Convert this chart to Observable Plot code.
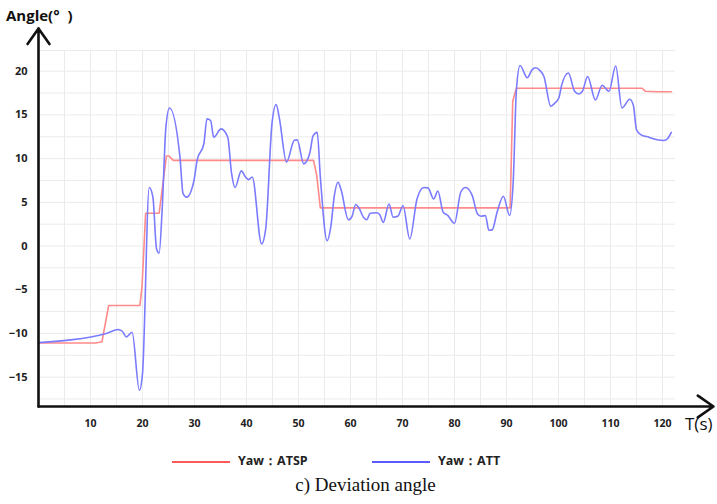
<!DOCTYPE html>
<html>
<head>
<meta charset="utf-8">
<script src="https://cdn.jsdelivr.net/npm/d3@7"></script>
<script src="https://cdn.jsdelivr.net/npm/@observablehq/plot@0.6"></script>
<style>
  body { margin: 0; background: #fff; }
  #wrap { position: relative; width: 717px; height: 504px; overflow: hidden; background: #fff; }
  #chart { position: absolute; left: 0; top: 0; }
  .lab { position: absolute; font-family: "Open Sans", sans-serif; color: #111; white-space: nowrap; }
  #legend { position: absolute; top: 452px; left: 0; width: 717px; height: 20px; font-family: "Open Sans", sans-serif; font-weight: 700; font-size: 12.5px; color: #222; }
  .sw { position: absolute; top: 9px; width: 58px; height: 2px; }
  .lt { position: absolute; top: 0px; white-space: nowrap; }
  #caption { position: absolute; top: 474px; left: 0; width: 731px; text-align: center; font-family: "Liberation Serif", "Times New Roman", serif; font-size: 19px; color: #111; }
</style>
</head>
<body>
<div id="wrap">
  <div id="chart"></div>
  <div class="lab" style="left:6px; top:5px; font-size:15px; font-weight:700;">Angle(°&nbsp;&nbsp;)</div>
  <div class="lab" style="left:685px; top:412px; font-size:17px;">T(s)</div>
  <div id="legend">
    <div class="sw" style="left:172px; background:#ff5a5a;"></div>
    <div class="lt" style="left:238px;">Yaw：ATSP</div>
    <div class="sw" style="left:372px; background:#5a5aff;"></div>
    <div class="lt" style="left:438px;">Yaw：ATT</div>
  </div>
  <div id="caption">c) Deviation angle</div>
</div>
<script>
// Series: Yaw ATSP (setpoint)
const atspT = [0, 11, 12.2, 13.5, 19.5, 19.9, 20.6, 23.2, 24.6, 25.1, 25.9, 52.9, 53.5, 54.2, 90.7, 91.2, 91.9, 116.1, 116.7, 119, 121.7];
const atspV = [-11.1, -11.1, -10.95, -6.8, -6.8, -4.7, 3.75, 3.75, 10.3, 10.3, 9.8, 9.8, 8.1, 4.37, 4.37, 16.6, 18.05, 18.05, 17.7, 17.65, 17.65];

// Series: Yaw ATT (attitude)
const attT = [0, 13.2, 15.3, 16.1, 16.9, 18.0, 19.4, 20.0, 21.3, 22.0, 22.7, 23.2, 23.8, 24.5, 25.2, 27.2, 27.8, 28.5, 29.9, 30.5, 31.8, 32.4, 33.1, 33.7, 35.1, 36.4, 37.1, 37.8, 39.0, 39.8, 40.4, 41.1, 42.9, 43.7, 44.9, 45.7, 46.3, 47.7, 49.2, 49.75, 51.0, 52.2, 52.8, 53.6, 54.2, 55.5, 56.2, 56.9, 57.6, 58.2, 59.6, 60.3, 61.0, 61.6, 62.6, 63.1, 63.8, 65.0, 65.6, 66.3, 67.4, 68.2, 69.1, 70.1, 71.4, 72.8, 74.1, 74.9, 76.0, 76.8, 77.8, 78.7, 80.0, 81.2, 82.1, 83.4, 84.4, 85.1, 85.95, 86.6, 87.25, 88.2, 89.4, 90.6, 91.3, 91.9, 92.6, 94.0, 94.9, 95.6, 96.4, 97.2, 98.5, 99.2, 100.1, 100.6, 101.9, 103.1, 103.9, 104.6, 105.6, 107.1, 108.4, 109.7, 111.0, 112.2, 113.7, 114.4, 115.0, 115.8, 117.4, 119.0, 120.25, 121.0, 121.7];
const attV = [-11.05, -9.97, -9.55, -9.75, -10.4, -9.86, -16.5, -14.6, 6.7, 5.6, -0.3, -0.8, 4.4, 13.6, 15.8, 10.2, 6.0, 5.6, 7.5, 9.8, 11.7, 14.55, 14.36, 12.45, 13.4, 12.45, 8.45, 6.7, 8.6, 7.9, 7.6, 7.9, 0.25, 2.0, 14.0, 16.2, 14.7, 9.6, 12.1, 12.15, 9.4, 10.7, 12.6, 13.0, 7.9, 0.6, 2.15, 5.8, 7.3, 6.4, 3.0, 3.4, 4.75, 4.37, 3.2, 3.0, 3.75, 3.8, 3.6, 2.7, 4.8, 3.3, 3.4, 4.6, 0.8, 5.4, 6.7, 6.65, 5.4, 6.3, 3.9, 3.5, 2.6, 6.15, 6.7, 5.8, 3.7, 3.4, 3.5, 1.8, 1.85, 3.9, 5.7, 3.5, 7.5, 17.8, 20.65, 19.25, 20.15, 20.4, 20.1, 19.4, 16.0, 16.3, 17.0, 18.4, 19.8, 17.7, 17.4, 17.7, 19.4, 16.7, 18.4, 17.7, 20.6, 15.8, 16.8, 16.1, 13.3, 12.75, 12.45, 12.15, 12.07, 12.3, 13.0];

// Tick labels and grid
const xTicks = [10, 20, 30, 40, 50, 60, 70, 80, 90, 100, 110, 120];
const yTicks = [-15, -10, -5, 0, 5, 10, 15, 20];
const xGrid = d3.range(5, 125, 5);
const yGrid = [-17.5, -15, -12.5, -10, -7.5, -5, -2.5, 0, 2.5, 5, 7.5, 10, 12.5, 15, 17.5, 20, 22.37];

// Axis extents (domain + arrow tips)
const xDomain = [0, 122.5];
const yDomain = [-18.36, 22.37];
const xArrowEnd = 129.8;
const yArrowEnd = 24.9;

const atsp = atspT.map((t, i) => ({t, v: atspV[i]}));
const att = attT.map((t, i) => ({t, v: attV[i]}));

const plot = Plot.plot({
  width: 717,
  height: 440,
  marginLeft: 38,
  marginRight: 42,
  marginTop: 50,
  marginBottom: 34,
  style: {fontFamily: "'Open Sans', sans-serif", background: "transparent", overflow: "visible"},
  x: {domain: xDomain, label: null},
  y: {domain: yDomain, label: null},
  marks: [
    Plot.gridX(xGrid, {stroke: "#ebebeb", strokeOpacity: 1, strokeWidth: 1}),
    Plot.gridY(yGrid, {stroke: "#ebebeb", strokeOpacity: 1, strokeWidth: 1}),
    Plot.axisY(yTicks, {tickSize: 0, tickPadding: 11, fontWeight: "bold", fontSize: 11, fill: "#222", label: null}),
    Plot.axisX(xTicks, {tickSize: 0, tickPadding: 13, fontWeight: "bold", fontSize: 10.5, fill: "#222", label: null}),
    Plot.line(atsp, {x: "t", y: "v", stroke: "#ff8a8a", strokeWidth: 1.6}),
    Plot.line(att, {x: "t", y: "v", stroke: "#7b7bff", strokeWidth: 1.6, curve: "monotone-x"}),
    Plot.arrow([{x1: xDomain[0], y1: yDomain[0], x2: xArrowEnd, y2: yDomain[0]}], {x1: "x1", y1: "y1", x2: "x2", y2: "y2", stroke: "#111", strokeWidth: 2.6, headLength: 11, headAngle: 70, insetStart: 0, insetEnd: 0}),
    Plot.arrow([{x1: xDomain[0], y1: yDomain[0], x2: xDomain[0], y2: yArrowEnd}], {x1: "x1", y1: "y1", x2: "x2", y2: "y2", stroke: "#111", strokeWidth: 2.6, headLength: 11, headAngle: 70, insetStart: 0, insetEnd: 0})
  ]
});
document.getElementById("chart").appendChild(plot);
</script>
</body>
</html>
